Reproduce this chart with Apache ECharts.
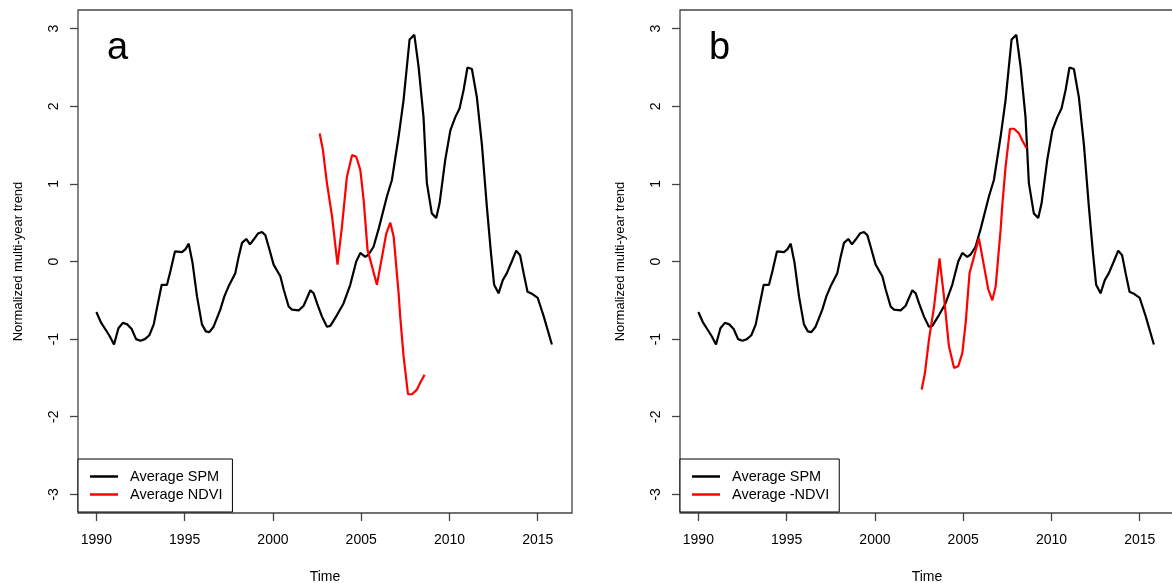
<!DOCTYPE html>
<html>
<head>
<meta charset="utf-8">
<title>SPM and NDVI multi-year trends</title>
<script src="https://cdn.jsdelivr.net/npm/echarts@6/dist/echarts.min.js"></script>
<style>
  html, body { margin: 0; padding: 0; background: #fff; }
  #chart { width: 1172px; height: 583px; }
</style>
</head>
<body>
<div id="chart"></div>
<script>
// Average SPM, normalized multi-year trend (decimal year, value)
const spmYear = [
  1990.00, 1990.25, 1990.50, 1990.75, 1991.00, 1991.25, 1991.50, 1991.75,
  1992.00, 1992.25, 1992.50, 1992.75, 1993.00, 1993.25, 1993.45, 1993.70,
  1994.00, 1994.20, 1994.45, 1994.85, 1995.05, 1995.23, 1995.45, 1995.70,
  1995.98, 1996.20, 1996.40, 1996.64, 1997.02, 1997.25, 1997.49, 1997.87,
  1998.05, 1998.25, 1998.49, 1998.70, 1998.90, 1999.15, 1999.38, 1999.57,
  1999.76, 2000.04, 2000.42, 2000.61, 2000.89, 2001.08, 2001.46, 2001.74,
  2002.12, 2002.31, 2002.50, 2002.78, 2003.06, 2003.25, 2003.63, 2004.00,
  2004.38, 2004.72, 2004.95, 2005.23, 2005.42, 2005.70, 2006.00, 2006.46,
  2006.74, 2007.12, 2007.40, 2007.74, 2008.01, 2008.25, 2008.53, 2008.72,
  2009.00, 2009.25, 2009.44, 2009.76, 2010.05, 2010.33, 2010.57, 2010.80,
  2011.02, 2011.27, 2011.55, 2011.84, 2012.12, 2012.35, 2012.53, 2012.78,
  2013.02, 2013.25, 2013.53, 2013.78, 2014.00, 2014.20, 2014.42, 2014.70,
  2015.00, 2015.33, 2015.80
];
const spmValue = [
  -0.65, -0.78, -0.87, -0.96, -1.07, -0.86, -0.79, -0.81,
  -0.87, -1.00, -1.02, -1.00, -0.95, -0.81, -0.58, -0.30,
  -0.30, -0.12, 0.13, 0.12, 0.16, 0.23, -0.02, -0.45,
  -0.81, -0.90, -0.91, -0.84, -0.62, -0.45, -0.32, -0.15,
  0.05, 0.24, 0.29, 0.22, 0.28, 0.36, 0.38, 0.34,
  0.19, -0.04, -0.19, -0.36, -0.58, -0.62, -0.63, -0.57,
  -0.37, -0.41, -0.54, -0.71, -0.84, -0.83, -0.69, -0.54,
  -0.30, 0.00, 0.11, 0.06, 0.09, 0.19, 0.43, 0.84,
  1.05, 1.61, 2.08, 2.86, 2.92, 2.51, 1.86, 1.01,
  0.62, 0.56, 0.75, 1.31, 1.69, 1.86, 1.97, 2.21,
  2.50, 2.48, 2.12, 1.50, 0.70, 0.11, -0.30, -0.41,
  -0.24, -0.15, 0.00, 0.14, 0.08, -0.15, -0.39, -0.42,
  -0.47, -0.70, -1.07
];

// Average NDVI, normalized multi-year trend
const ndviYear = [
  2002.65, 2002.83, 2003.06, 2003.35, 2003.66, 2003.91, 2004.19, 2004.48,
  2004.72, 2004.95, 2005.14, 2005.36, 2005.61, 2005.89, 2006.18, 2006.42,
  2006.65, 2006.84, 2007.12, 2007.21, 2007.40, 2007.65, 2007.88, 2008.16,
  2008.35, 2008.59
];
const ndviValue = [
  1.65, 1.44, 1.01, 0.58, -0.04, 0.45, 1.09, 1.37,
  1.35, 1.18, 0.79, 0.15, -0.06, -0.30, 0.06, 0.36,
  0.50, 0.32, -0.41, -0.71, -1.22, -1.71, -1.71, -1.65,
  -1.56, -1.46
];

const xTicks = [1990, 1995, 2000, 2005, 2010, 2015];
const yTicks = [-3, -2, -1, 0, 1, 2, 3];

const FONT = "'Liberation Sans', Arial, sans-serif";
const AXIS_COLOR = '#444';

const spmData = spmYear.map((t, i) => [t, spmValue[i]]);
const ndviData = ndviYear.map((t, i) => [t, ndviValue[i]]);
const negNdviData = ndviYear.map((t, i) => [t, -ndviValue[i]]);

const panels = [
  { left: 78, letter: 'a', ndviName: 'Average NDVI', ndvi: ndviData },
  { left: 680, letter: 'b', ndviName: 'Average -NDVI', ndvi: negNdviData }
];

const option = {
  backgroundColor: '#fff',
  animation: false,
  textStyle: { fontFamily: FONT },
  title: panels.map(p => ({
    text: p.letter,
    left: p.left + 29,
    top: 30,
    padding: 0,
    textStyle: { fontFamily: FONT, fontSize: 38, fontWeight: 'normal', color: '#000' }
  })),
  legend: panels.map((p, i) => ({
    left: p.left,
    top: 459,
    orient: 'vertical',
    padding: [10, 10, 10, 12],
    itemGap: 3,
    itemWidth: 28,
    itemHeight: 2.5,
    icon: 'rect',
    borderColor: '#000',
    borderWidth: 1,
    backgroundColor: '#fff',
    selectedMode: false,
    data: ['Average SPM', p.ndviName].map(n => ({ name: n })),
    textStyle: { fontFamily: FONT, fontSize: 14.5, color: '#000', padding: [0, 0, 0, 7] }
  })),
  grid: panels.map(p => ({
    left: p.left,
    top: 10,
    width: 494,
    height: 503,
    show: true,
    borderColor: AXIS_COLOR,
    borderWidth: 1.3,
    backgroundColor: 'transparent',
    containLabel: false,
    outerBoundsMode: 'none'
  })),
  xAxis: panels.map((p, i) => ({
    type: 'value',
    gridIndex: i,
    min: 1988.96,
    max: 2016.94,
    name: 'Time',
    nameLocation: 'middle',
    nameGap: 57,
    nameTextStyle: { fontFamily: FONT, fontSize: 14, color: '#000' },
    axisLine: { show: false, onZero: false },
    splitLine: { show: false },
    axisTick: { show: true, length: 8, inside: false, customValues: xTicks,
                lineStyle: { color: AXIS_COLOR, width: 1.3 } },
    axisLabel: { show: true, customValues: xTicks, margin: 20, fontSize: 14,
                 fontFamily: FONT, color: '#000', formatter: v => String(v) }
  })),
  yAxis: panels.map((p, i) => ({
    type: 'value',
    gridIndex: i,
    min: -3.24,
    max: 3.24,
    name: 'Normalized multi-year trend',
    nameLocation: 'middle',
    nameGap: 53,
    nameRotate: 90,
    nameTextStyle: { fontFamily: FONT, fontSize: 13, color: '#000' },
    axisLine: { show: false, onZero: false },
    splitLine: { show: false },
    axisTick: { show: true, length: 8, inside: false, customValues: yTicks,
                lineStyle: { color: AXIS_COLOR, width: 1.3 } },
    axisLabel: { show: true, customValues: yTicks, rotate: 90, margin: 17, fontSize: 14,
                 fontFamily: FONT, color: '#000', formatter: v => String(v) }
  })),
  series: []
};

panels.forEach((p, i) => {
  option.series.push({
    name: 'Average SPM',
    type: 'line',
    xAxisIndex: i,
    yAxisIndex: i,
    data: spmData,
    showSymbol: false,
    symbol: 'none',
    color: '#000',
    lineStyle: { color: '#000', width: 2.2 },
    clip: true,
    z: 3
  });
  option.series.push({
    name: p.ndviName,
    type: 'line',
    xAxisIndex: i,
    yAxisIndex: i,
    data: p.ndvi,
    showSymbol: false,
    symbol: 'none',
    color: '#f00',
    lineStyle: { color: '#f00', width: 2.2 },
    clip: true,
    z: 4
  });
});

const chart = echarts.init(document.getElementById('chart'), null, { renderer: 'canvas' });
chart.setOption(option);
</script>
</body>
</html>
